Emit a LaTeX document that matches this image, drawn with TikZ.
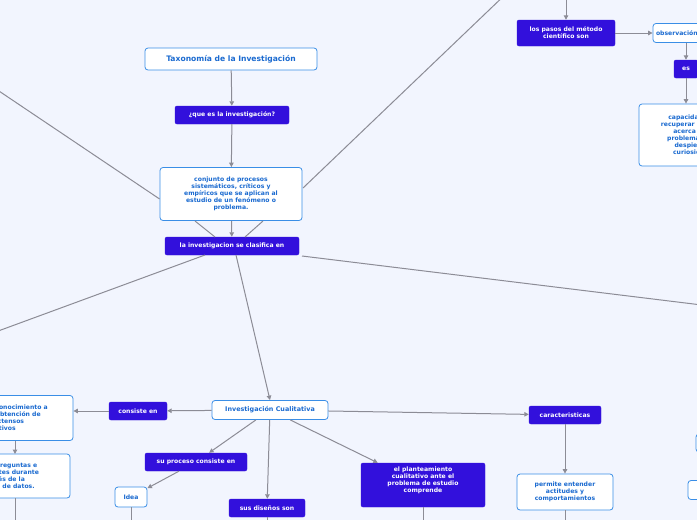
\documentclass[tikz,border=0pt]{standalone}
\usepackage{fontspec}
\setmainfont{DejaVu Sans}
\usetikzlibrary{arrows.meta}
\definecolor{bg}{HTML}{F2F5FE}
\definecolor{pur}{HTML}{3210DC}
\definecolor{bord}{HTML}{3A8EE6}
\definecolor{btxt}{HTML}{1A6AD0}
\definecolor{edge}{HTML}{8C8C96}
\tikzset{
 pbox/.style={fill=pur,draw=pur,rounded corners=2pt,text=white,font=\fontsize{6.1}{7}\selectfont\bfseries,align=center,inner sep=2pt},
 wbox/.style={fill=white,draw=bord,line width=0.8pt,rounded corners=3pt,text=btxt,font=\fontsize{6.1}{7}\selectfont\bfseries,align=center,inner sep=2pt},
 con/.style={draw=edge,line width=1pt},
 arr/.style={con,-{Triangle[length=4.5pt,width=4.5pt]}},
}
\begin{document}
\begin{tikzpicture}[x=1pt,y=-1pt]
\useasboundingbox (0,0) rectangle (697,520);
\clip (0,0) rectangle (697,520);
\fill[bg] (0,0) rectangle (697,520);
% nodes
\node[wbox,minimum width=172pt,minimum height=22pt,font=\fontsize{7.6}{8.5}\selectfont\bfseries] (tax) at (231,59) {Taxonomía de la Investigación};
\node[pbox,minimum width=114pt,minimum height=18pt] (que) at (232,115) {¿que es la investigación?};
\node[wbox,minimum width=142pt,minimum height=53pt] (conj) at (231,194) {conjunto de procesos\\sistemáticos, críticos y\\empíricos que se aplican al\\estudio de un fenómeno o\\problema.};
\node[pbox,minimum width=134pt,minimum height=18pt] (clas) at (232,246) {la investigacion se clasifica en};
\node[pbox,minimum width=98pt,minimum height=26pt] (pasos) at (566,33) {los pasos del método\\científico son};
\node[wbox,minimum width=90pt,minimum height=19pt,text width=84pt,align=left] (obs) at (698,33) {observación};
\node[pbox,minimum width=24pt,minimum height=18pt] (es) at (686,69) {es};
\node[wbox,minimum width=104pt,minimum height=62pt] (cap) at (691,135) {capacidad de\\recuperar hechos\\acerca del\\problema que\\despierta\\curiosidad};
\node[wbox,minimum width=116pt,minimum height=19pt,font=\fontsize{6.4}{7.4}\selectfont\bfseries] (ic) at (270,410) {Investigación Cualitativa};
\node[pbox,minimum width=58pt,minimum height=18pt] (cons) at (138,411) {consiste en};
\node[wbox,minimum width=150pt,minimum height=45pt] (l1) at (-2,418) {se basa en el conocimiento a\\partir de la obtención de\\datos extensos\\narrativos};
\node[wbox,minimum width=144pt,minimum height=44pt] (l2) at (-2,476) {desarrolla preguntas e\\hipótesis antes durante\\o después de la\\recolección de datos.};
\node[pbox,minimum width=102pt,minimum height=18pt] (proc) at (196,462) {su proceso consiste en};
\node[wbox,minimum width=32pt,minimum height=20pt] (idea) at (131,497) {Idea};
\node[pbox,minimum width=76pt,minimum height=18pt] (dis) at (267,508) {sus diseños son};
\node[pbox,minimum width=124pt,minimum height=44pt] (plan) at (423,485) {el planteamiento\\cualitativo ante el\\problema de estudio\\comprende\\[4pt]};
\node[pbox,minimum width=72pt,minimum height=18pt] (car) at (565,415) {caracteristicas};
\node[wbox,minimum width=96pt,minimum height=36pt] (perm) at (565,492) {permite entender\\actitudes y\\comportamientos};
\node[wbox,minimum width=20pt,minimum height=18pt] (r1) at (706,443) {};
\node[wbox,minimum width=20pt,minimum height=19pt] (r2) at (698,490) {};
% off-picture ends
\coordinate (tl) at (-10,85);
\coordinate (tr) at (510,-10);
\coordinate (bl) at (-10,334);
\coordinate (br) at (710,306);
\coordinate (top) at (566,-5);
\coordinate (d1) at (15,525);
\coordinate (d2) at (131,525);
\coordinate (d3) at (267,525);
\coordinate (d4) at (423,525);
\coordinate (d5) at (565,525);
% connectors
\draw[con] (tl) -- (conj.west |- 0,199);
\draw[con] (195,221) -- (215,237);
\draw[con] (tr) -- (303,188);
\draw[con] (263,221) -- (245,237);
\draw[arr] (tax) -- (que);
\draw[arr] (que) -- (conj);
\draw[arr] (conj) -- (clas);
\draw[con] (205,255) -- (bl);
\draw[con] (302,256) -- (br);
\draw[arr] (236,255) -- (ic.north);
\draw[arr] (top) -- (pasos);
\draw[arr] (pasos) -- (obs.west);
\draw[arr] (es.north |- obs.south) -- (es);
\draw[arr] (es) -- (es.south |- cap.north);
\draw[arr] (ic) -- (cons);
\draw[arr] (cons) -- (l1.east |- cons);
\draw[arr] (15,441) -- (15,454);
\draw[con] (15,498) -- (d1);
\draw[arr] (ic) -- (proc);
\draw[arr] (proc) -- (idea);
\draw[con] (idea.south) -- (d2);
\draw[arr] (ic) -- (dis);
\draw[con] (dis) -- (d3);
\draw[arr] (ic) -- (plan);
\draw[con] (plan) -- (d4);
\draw[arr] (ic) -- (car);
\draw[arr] (car) -- (perm);
\draw[con] (perm) -- (d5);
\end{tikzpicture}
\end{document}
